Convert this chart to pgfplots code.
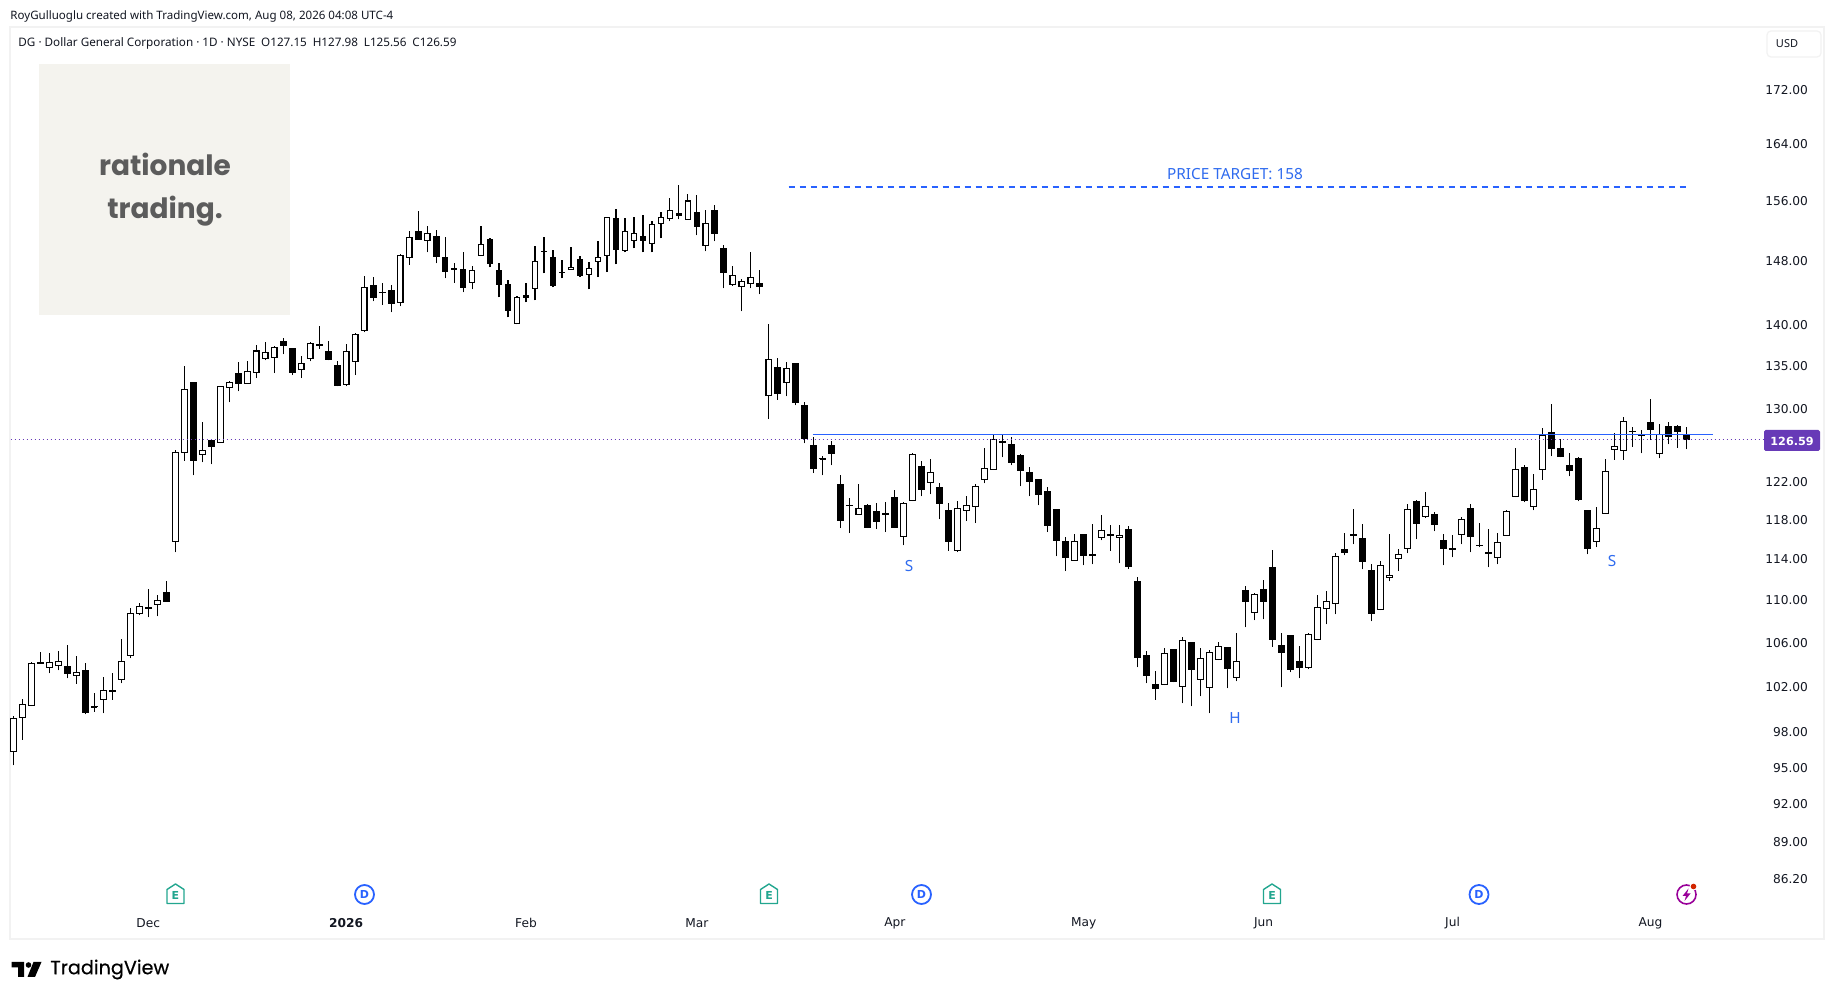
\documentclass[border=0pt]{standalone}
\usepackage{fontspec}
\usepackage{pgfplots}
\usepackage{pgfplotstable}
\pgfplotsset{compat=1.18}
\setmainfont{DejaVu Sans}
\newfontfamily\hdr{Noto Sans}
\newfontfamily\pop{Poppins}
\newfontfamily\popm{Poppins}[FakeBold=0.5]
\definecolor{tvblue}{HTML}{2962FF}
\definecolor{tvlabel}{HTML}{2F6BEF}
\definecolor{tvpurple}{HTML}{673AB7}
\definecolor{tvframe}{HTML}{F2F2F2}
\definecolor{tvteal}{HTML}{22A68F}
\definecolor{logobg}{HTML}{F4F3EE}
\definecolor{logotx}{HTML}{5C5C5C}
\definecolor{tvtext}{HTML}{131722}
\pgfplotstableread{
x o h l c
0 96.31 99.44 95.20 99.24
1 99.24 100.91 97.37 100.45
2 100.27 104.25 100.27 104.13
3 104.04 105.15 104.04 104.22
4 103.67 105.06 103.19 104.19
5 103.86 105.24 103.46 104.28
6 103.86 105.80 102.74 103.10
7 102.95 104.79 102.26 103.28
8 103.49 104.16 99.55 99.64
9 100.27 101.45 99.78 100.16
10 100.79 102.89 99.64 101.69
11 101.69 103.25 100.85 101.57
12 102.59 106.36 102.29 104.31
13 104.76 109.29 104.55 108.79
14 108.70 109.74 108.57 109.45
15 109.17 111.13 108.38 109.33
16 109.55 110.54 108.47 109.99
17 110.80 111.92 109.89 109.89
18 115.76 125.49 114.71 125.24
19 125.13 135.10 124.31 132.37
20 133.11 133.11 122.73 124.24
21 124.92 128.63 124.13 125.52
22 126.57 126.57 123.92 125.86
23 126.23 132.72 126.23 132.72
24 132.49 133.30 130.81 133.19
25 134.24 135.57 132.09 132.91
26 132.95 135.69 132.95 134.44
27 134.24 137.59 133.62 136.90
28 135.89 137.96 135.73 136.71
29 136.00 137.47 134.20 137.30
30 138.04 138.45 136.43 137.51
31 137.18 137.18 133.97 134.20
32 134.60 136.28 133.62 135.38
33 135.89 137.92 135.61 137.79
34 137.71 139.92 137.14 137.51
35 136.82 138.08 135.73 135.73
36 135.18 135.69 132.68 132.68
37 132.80 137.67 132.68 136.82
38 135.53 139.02 133.97 138.90
39 139.27 146.18 139.10 144.73
40 144.99 146.06 142.91 143.41
41 144.07 145.22 142.50 143.98
42 144.32 144.96 141.56 142.66
43 142.70 149.00 142.29 148.83
44 148.44 152.05 147.59 151.20
45 152.01 154.73 150.89 150.89
46 150.67 152.72 149.17 151.70
47 151.34 152.19 147.76 148.66
48 148.57 151.25 145.84 146.61
49 146.91 147.84 145.28 147.16
50 147.03 149.25 144.05 144.56
51 145.25 147.46 144.43 146.91
52 148.70 152.72 148.70 150.26
53 150.95 151.12 147.25 147.63
54 146.91 147.84 143.41 144.95
55 145.12 145.67 140.94 141.68
56 140.08 143.62 140.08 143.45
57 143.71 145.29 142.78 143.41
58 144.48 150.04 143.03 148.06
59 149.25 151.25 146.48 149.38
60 148.57 149.51 144.69 144.82
61 146.65 148.23 145.84 146.57
62 146.91 149.91 146.91 147.29
63 148.31 148.74 145.97 146.10
64 146.27 147.97 144.43 147.12
65 147.93 150.71 145.97 148.53
66 148.70 153.88 146.61 153.88
67 153.75 155.00 147.63 149.55
68 149.34 153.79 149.17 152.01
69 150.67 153.93 149.69 151.70
70 151.34 154.19 149.17 150.63
71 150.26 153.39 149.17 152.94
72 152.94 154.59 151.03 153.84
73 153.61 156.48 153.30 154.77
74 154.42 158.28 153.57 153.97
75 153.48 157.03 153.48 156.11
76 154.55 156.89 151.43 152.54
77 150.00 154.86 149.30 153.03
78 154.82 155.53 150.63 151.56
79 149.73 150.17 144.56 146.48
80 144.99 147.46 144.82 146.23
81 144.73 145.76 141.68 145.46
82 145.12 149.25 144.56 145.97
83 145.25 146.95 143.79 144.69
84 131.55 140.14 128.90 135.85
85 134.95 136.00 131.15 131.74
86 133.07 135.57 131.50 134.83
87 135.42 135.42 130.47 130.81
88 130.51 130.89 126.20 126.65
89 126.01 126.95 122.96 123.38
90 124.59 124.81 122.73 124.45
91 126.01 126.50 123.81 125.10
92 121.81 122.77 117.17 117.89
93 119.57 120.30 116.66 119.50
94 118.54 121.80 118.54 119.26
95 119.57 119.67 117.17 117.17
96 118.95 119.78 117.07 117.79
97 118.54 119.88 116.76 118.75
98 120.41 121.16 117.17 117.17
99 116.28 119.91 115.43 119.78
100 119.98 125.13 119.98 125.02
101 123.73 124.27 120.48 121.12
102 121.91 124.49 120.69 123.09
103 121.48 121.91 118.09 119.74
104 119.06 119.78 114.90 115.73
105 114.84 119.98 114.74 119.26
106 118.95 120.52 117.89 119.57
107 119.37 121.80 117.69 121.59
108 122.23 125.68 121.87 123.52
109 123.31 127.25 123.31 126.69
110 126.46 127.17 124.67 126.31
111 126.12 126.91 123.81 124.02
112 124.92 125.02 121.55 123.16
113 123.09 123.63 120.48 121.98
114 122.34 122.34 119.54 120.69
115 121.05 121.48 116.76 117.38
116 119.16 119.16 114.31 115.83
117 115.87 116.28 112.84 114.12
118 113.86 116.59 113.86 115.87
119 116.59 116.59 113.43 114.41
120 114.48 117.62 113.53 114.41
121 116.14 118.54 115.94 116.99
122 116.59 117.55 114.90 116.38
123 116.14 117.52 113.62 116.49
124 117.10 117.41 113.04 113.23
125 111.88 112.31 103.73 104.64
126 104.85 105.21 102.29 102.92
127 102.22 103.43 100.85 101.75
128 102.14 105.49 102.14 105.03
129 105.39 105.39 102.38 102.38
130 101.96 106.52 100.50 106.24
131 106.05 106.05 100.24 103.46
132 102.59 105.49 101.12 104.58
133 101.87 105.30 99.64 105.12
134 104.40 106.05 104.40 105.67
135 105.58 105.58 101.84 103.55
136 102.77 106.93 102.47 104.31
137 110.96 111.41 107.44 109.89
138 108.79 110.68 108.10 110.59
139 111.10 112.02 108.19 109.89
140 113.26 114.97 105.64 106.21
141 105.77 106.93 101.93 105.09
142 106.71 106.71 103.28 103.46
143 104.31 105.70 102.74 103.64
144 103.67 106.90 103.55 106.81
145 106.24 110.54 106.24 109.36
146 109.17 110.93 107.72 109.92
147 109.64 114.64 108.66 114.35
148 115.04 116.72 114.41 114.71
149 116.51 119.19 115.52 116.45
150 116.17 117.65 113.03 113.72
151 112.97 113.59 108.00 108.66
152 109.07 113.89 109.07 113.46
153 112.18 116.62 111.85 112.48
154 114.05 115.07 112.84 114.54
155 115.04 119.71 114.61 119.16
156 119.98 120.09 116.03 117.58
157 118.34 120.97 118.20 119.47
158 118.65 118.85 116.86 117.48
159 115.97 116.59 113.43 115.11
160 114.94 116.51 114.22 115.14
161 116.48 118.34 115.52 118.13
162 119.26 119.71 114.71 116.28
163 115.45 117.75 115.21 115.39
164 114.74 117.11 113.23 114.61
165 114.15 116.69 113.53 115.77
166 116.38 119.06 116.38 118.95
167 120.40 125.67 120.40 123.41
168 123.63 123.84 119.85 120.05
169 119.37 122.91 119.02 121.26
170 123.27 127.92 122.27 127.14
171 127.47 130.66 124.77 125.64
172 125.67 126.69 124.67 124.67
173 123.84 125.13 122.62 123.16
174 124.59 124.70 119.95 120.15
175 119.06 119.06 114.51 115.11
176 115.77 119.40 115.21 117.17
177 118.65 124.49 118.65 123.20
178 125.45 127.36 124.42 125.90
179 125.35 129.16 124.42 128.71
180 127.51 128.04 125.86 127.59
181 127.14 127.70 125.10 126.99
182 128.60 131.22 126.57 127.66
183 125.02 128.41 124.56 127.25
184 128.15 128.60 126.09 126.91
185 128.15 128.26 125.75 127.47
186 127.15 127.98 125.56 126.59
}\candles
\begin{document}
\begin{tikzpicture}
\fill[white] (0,0) rectangle (917.5pt,500pt);
\begin{axis}[
  at={(5pt,30.5pt)}, anchor=south west,
  scale only axis, width=907pt, height=456pt,
  ymode=log, ymin=81.78, ymax=181.75,
  xmin=-0.367, xmax=201.3,
  axis line style={tvframe, line width=1pt},
  major tick length=0pt, yminorticks=false,
  ytick={172,164,156,148,140,135,130,122,118,114,110,106,102,98,95,92,89,86.2},
  yticklabels={172.00,164.00,156.00,148.00,140.00,135.00,130.00,122.00,118.00,114.00,110.00,106.00,102.00,98.00,95.00,92.00,89.00,86.20},
  yticklabel pos=right,
  yticklabel style={anchor=east, xshift=-4.5pt, font=\fontsize{6.1}{7}\selectfont, text=tvtext},
  xtick={15,37,57,76,98,119,139,160,182},
  xticklabels={Dec,\textbf{2026},Feb,Mar,Apr,May,Jun,Jul,Aug},
  xticklabel style={anchor=center, yshift=8pt, font=\fontsize{6.1}{7}\selectfont, text=tvtext},
]
% one wick and one body per row of the table
\pgfplotsinvokeforeach{0,...,186}{
  \pgfplotstablegetelem{#1}{o}\of\candles \let\cO\pgfplotsretval
  \pgfplotstablegetelem{#1}{h}\of\candles \let\cH\pgfplotsretval
  \pgfplotstablegetelem{#1}{l}\of\candles \let\cL\pgfplotsretval
  \pgfplotstablegetelem{#1}{c}\of\candles \let\cC\pgfplotsretval
  \pgfmathsetmacro\xa{#1-0.32}
  \pgfmathsetmacro\xb{#1+0.32}
  \pgfmathsetmacro\up{\cC>\cO ? 1 : 0}
  \pgfmathsetmacro\ytop{max(\cO,\cC)*0.9996}
  \pgfmathsetmacro\ybot{min(\cO,\cC)*1.0004}
  \ifdim\up pt>0.5pt \def\cfill{white}\else\def\cfill{black}\fi
  \edef\temp{
    \noexpand\addplot[black, line width=0.55pt, forget plot] coordinates {(#1,\cL) (#1,\cH)};
    \noexpand\addplot[draw=black, fill=\cfill, line width=0.55pt, forget plot] coordinates {(\xa,\ybot) (\xb,\ybot) (\xb,\ytop) (\xa,\ytop)} -- cycle;
  }
  \temp
}
% horizontal lines
\addplot[tvpurple, line width=0.5pt, dash pattern=on 0.5pt off 1.5pt, forget plot] coordinates {(-0.3,126.59) (194.7,126.59)};
\addplot[tvblue, line width=0.6pt, forget plot] coordinates {(88.87,127.2) (188.93,127.2)};
\addplot[tvblue, line width=0.75pt, dash pattern=on 3pt off 2.5pt, forget plot] coordinates {(86.2,157.95) (186,157.95)};
\end{axis}
\begin{scope}[shift={(0pt,500pt)},x=0.5pt,y=-0.5pt]
  % header
  \node[anchor=west, inner sep=0, text=tvtext, font=\hdr\fontsize{5.78}{7}\selectfont] at (10,16.5) {RoyGulluoglu created with TradingView.com, Aug 08, 2026 04:08 UTC-4};
  \node[anchor=west, inner sep=0, text=tvtext, font=\hdr\fontsize{5.85}{7}\selectfont] at (18,43.3) {DG · Dollar General Corporation · 1D · NYSE\enspace O127.15\enspace H127.98\enspace L125.56\enspace C126.59};
  % logo box
  \fill[logobg] (39,64) rectangle (290,315);
  \node[text=logotx, inner sep=0, font=\pop\bfseries\fontsize{14}{16}\selectfont] at (165,164) {rationale};
  \node[text=logotx, inner sep=0, font=\pop\bfseries\fontsize{14}{16}\selectfont] at (165,211.5) {trading.};
  % USD
  \draw[tvframe, line width=0.6pt, rounded corners=2pt] (1767,31) rectangle (1821,57);
  \node[inner sep=0, text=tvtext, font=\hdr\fontsize{5.5}{7}\selectfont] at (1787,44) {USD};
  % price label
  \fill[tvpurple, rounded corners=0.8pt] (1764,430) rectangle (1820,451);
  \node[inner sep=0, text=white, font=\bfseries\fontsize{5.6}{7}\selectfont] at (1792,441) {126.59};
  % annotations
  \node[inner sep=0, text=tvlabel, font=\hdr\fontsize{7.67}{8}\selectfont] at (1235,174) {PRICE TARGET: 158};
  \node[inner sep=0, text=tvlabel, font=\hdr\fontsize{7.67}{8}\selectfont] at (909,566) {S};
  \node[inner sep=0, text=tvlabel, font=\hdr\fontsize{7.67}{8}\selectfont] at (1235,718) {H};
  \node[inner sep=0, text=tvlabel, font=\hdr\fontsize{7.67}{8}\selectfont] at (1612,561) {S};
  % event icons
  \foreach \ex in {175.5,769,1272}{
    \begin{scope}[shift={(\ex,894)}]
      \draw[tvteal, line width=0.7pt, line join=round] (-8.5,-4.5) -- (0,-10) -- (8.5,-4.5) -- (8.5,9.5) -- (-8.5,9.5) -- cycle;
      \node[inner sep=0, text=tvteal, font=\bfseries\fontsize{5.5}{6}\selectfont] at (0,1.5) {E};
    \end{scope}}
  \foreach \ex in {364.5,921.5,1479}{
    \begin{scope}[shift={(\ex,894.5)}]
      \draw[tvblue, line width=0.9pt] (0,0) circle (9.5);
      \node[inner sep=0, text=tvblue, font=\bfseries\fontsize{5.5}{6}\selectfont] at (0,0) {D};
    \end{scope}}
  \begin{scope}[shift={(1686.5,894.5)}]
    \draw[violet!80!magenta, line width=0.8pt] (0,0) circle (9.5);
    \fill[violet!80!magenta] (2,-6) -- (-4,1.5) -- (-0.5,1.5) -- (-2,6.5) -- (4,-1) -- (0.5,-1) -- cycle;
    \fill[white] (7,-8) circle (4);
    \fill[red!75!black!70!orange] (7,-8) circle (2.8);
  \end{scope}
  % TradingView logo
  \fill[black] (11.5,962) -- (24,962) -- (24,977) -- (18,977) -- (18,967.5) -- (11.5,967.5) -- cycle;
  \fill[black] (28.5,965) circle (2.8);
  \fill[black] (33.5,962) -- (41.5,962) -- (35,977) -- (27.5,977) -- cycle;
  \node[anchor=west, inner sep=0, text=black, font=\popm\fontsize{9.6}{11}\selectfont] at (50,969.5) {TradingView};
\end{scope}
\end{tikzpicture}
\end{document}
